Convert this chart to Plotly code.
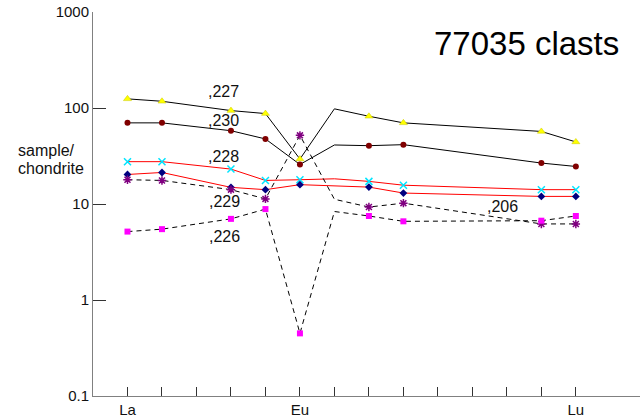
import plotly.graph_objects as go

# Elements on the x axis (Pm omitted)
elements = ["La", "Ce", "Pr", "Nd", "Sm", "Eu", "Gd", "Tb", "Dy", "Ho", "Er", "Tm", "Yb", "Lu"]
shown_labels = ["La", "", "", "", "", "Eu", "", "", "", "", "", "", "", "Lu"]

# Measured chondrite-normalised values (None = not measured)
s227 = [124.5, 117.5, None, 94.0, 87.5, 29.4, None, 82.0, 70.0, None, None, None, 57.0, 44.3]
s230 = [70.0, 70.0, None, 58.0, 47.6, 25.8, None, 40.5, 41.5, None, None, None, 26.7, 24.6]
s228 = [27.6, 27.6, None, 23.1, 17.6, 17.9, None, 17.2, 15.7, None, None, None, 14.1, 14.1]
s229 = [20.3, 21.3, None, 14.9, 14.1, 15.9, None, 15.0, 13.0, None, None, None, 12.0, 12.0]
s206 = [17.9, 17.6, None, 14.1, 11.3, 51.9, None, 9.3, 10.2, None, None, None, 6.2, 6.2]
s226 = [5.16, 5.47, None, 7.0, 8.85, 0.449, None, 7.5, 6.6, None, None, None, 6.7, 7.5]

# Interpolated Gd vertices drawn by the connecting lines (no marker)
gd227 = 98.0
gd230 = 41.2
gd228 = 18.3
gd229 = None
gd206 = 11.2
gd226 = 8.35

y_ticks = [0.1, 1, 10, 100, 1000]
y_tick_text = ["0.1", "1", "10", "100", "1000"]

idx = list(range(len(elements)))
GD = elements.index("Gd")

series = [
    (",227", s227, gd227, "black", "solid", dict(symbol="triangle-up", color="#FFFF00", size=7,
                                                line=dict(color="#C8C800", width=0.5))),
    (",230", s230, gd230, "black", "solid", dict(symbol="circle", color="#800000", size=6)),
    (",228", s228, gd228, "#FF0000", "solid", dict(symbol="x-thin-open", color="#00E5FF", size=7,
                                                  line=dict(color="#00E5FF", width=1.5))),
    (",229", s229, gd229, "#FF0000", "solid", dict(symbol="diamond", color="#000080", size=6)),
    (",206", s206, gd206, "black", "5px,4px", dict(symbol="asterisk-open", color="#800080", size=7,
                                                   line=dict(color="#800080", width=1.5))),
    (",226", s226, gd226, "black", "5px,4px", dict(symbol="square", color="#FF00FF", size=6)),
]

fig = go.Figure()
for name, vals, gd, lcol, dash, mk in series:
    line_vals = list(vals)
    line_vals[GD] = gd
    fig.add_trace(go.Scatter(x=idx, y=line_vals, mode="lines", connectgaps=True,
                             line=dict(color=lcol, width=1, dash=dash),
                             hoverinfo="skip", showlegend=False))
for name, vals, gd, lcol, dash, mk in series:
    fig.add_trace(go.Scatter(x=idx, y=vals, mode="markers", marker=mk, name=name,
                             showlegend=False))

lab_font = dict(family="Liberation Sans, Arial, sans-serif", size=16, color="#111111")
labels = [(",227", 2.79, 2.171), (",230", 2.79, 1.868), (",228", 2.79, 1.493),
          (",229", 2.82, 1.023), (",226", 2.82, 0.658), (",206", 10.86, 0.971)]
for txt, lx, ly in labels:
    fig.add_annotation(x=lx, y=ly, xref="x", yref="y", text=txt, showarrow=False,
                       font=lab_font, xanchor="center", yanchor="middle")

fig.add_annotation(x=0.793, y=0.918, xref="paper", yref="paper", text="77035 clasts",
                   showarrow=False, xanchor="center", yanchor="middle",
                   font=dict(family="Liberation Sans, Arial, sans-serif", size=33, color="#000"))
fig.add_annotation(x=-0.1414, y=0.6395, xref="paper", yref="paper", text="sample/",
                   showarrow=False, xanchor="left", yanchor="middle", font=lab_font)
fig.add_annotation(x=-0.1414, y=0.5917, xref="paper", yref="paper", text="chondrite",
                   showarrow=False, xanchor="left", yanchor="middle", font=lab_font)

tick_font = dict(family="Liberation Sans, Arial, sans-serif", size=15, color="#111111")
fig.update_xaxes(range=[-1, 14.86], tickvals=idx, ticktext=shown_labels, ticks="inside",
                 ticklen=9, tickcolor="#333", tickwidth=1, showline=True, linecolor="#808080",
                 linewidth=1, showgrid=False, zeroline=False, tickfont=tick_font,
                 automargin=False)
fig.update_yaxes(type="log", range=[-1, 3], tickvals=y_ticks, ticktext=y_tick_text,
                 ticks="inside", ticklen=13, tickcolor="#333", tickwidth=1, showline=True,
                 linecolor="#808080", linewidth=1, showgrid=False, zeroline=False,
                 tickfont=tick_font, automargin=False)
fig.update_layout(width=644, height=419, margin=dict(l=93, r=4, t=12, b=23),
                  paper_bgcolor="white", plot_bgcolor="white", showlegend=False)

fig.write_html("out.html", config={"displayModeBar": False},
               post_script="document.body.style.margin='0';")
